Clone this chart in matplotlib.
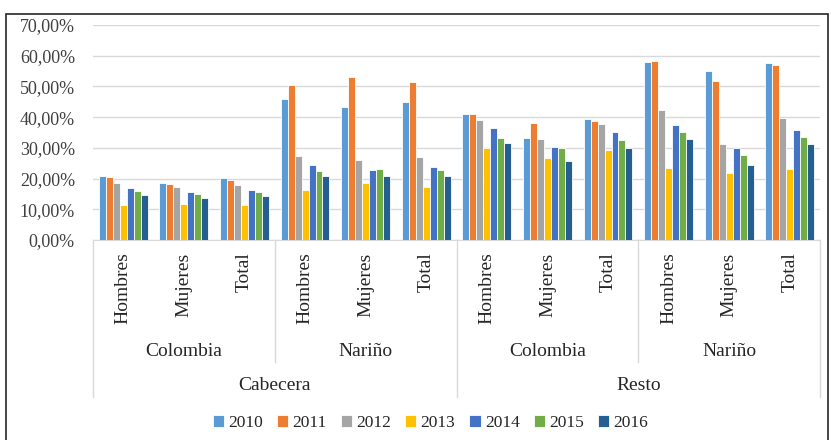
import matplotlib
matplotlib.use("Agg")
import matplotlib.pyplot as plt
from matplotlib.patches import Rectangle
from matplotlib.ticker import FuncFormatter

years = ["2010", "2011", "2012", "2013", "2014", "2015", "2016"]
sexes = ["Hombres", "Mujeres", "Total"]
regions = ["Colombia", "Nariño", "Colombia", "Nariño"]
zones = ["Cabecera", "Resto"]

# one list per year, 12 categories: zone > region > sex (percent)
v2010 = [21.0, 18.5, 20.2, 45.8, 43.3, 44.8, 40.9, 33.3, 39.4, 58.1, 55.0, 57.5]
v2011 = [20.4, 18.3, 19.6, 50.5, 53.1, 51.4, 41.0, 38.1, 38.8, 58.4, 51.8, 56.9]
v2012 = [18.5, 17.3, 18.0, 27.4, 26.1, 26.9, 39.2, 32.9, 37.9, 42.2, 31.4, 39.8]
v2013 = [11.3, 11.8, 11.3, 16.4, 18.7, 17.3, 30.0, 26.7, 29.4, 23.5, 21.7, 23.0]
v2014 = [16.9, 15.6, 16.2, 24.3, 22.7, 23.8, 36.5, 30.3, 35.2, 37.6, 29.9, 35.8]
v2015 = [16.0, 14.9, 15.5, 22.6, 23.1, 22.7, 33.2, 29.9, 32.5, 35.2, 27.7, 33.4]
v2016 = [14.7, 13.8, 14.2, 20.8, 20.8, 20.8, 31.5, 25.8, 30.0, 32.8, 24.3, 31.2]
series = [v2010, v2011, v2012, v2013, v2014, v2015, v2016]
colors = ["#5B9BD5", "#ED7D31", "#A5A5A5", "#FFC000", "#4472C4", "#70AD47", "#255E91"]

plt.rcParams["font.family"] = ["Liberation Serif", "DejaVu Serif"]
fig = plt.figure(figsize=(8.31, 4.40), dpi=100)
ax = fig.add_axes([0.1119, 0.4545, 0.875, 0.4886])

n = len(v2010)
x = list(range(n))
step = 0.115
for j, (vals, c) in enumerate(zip(series, colors)):
    xs = [i + (j - 3) * step for i in x]
    ax.bar(xs, [v / 100 for v in vals], width=step, color=c, edgecolor="white",
           linewidth=0.6, label=years[j], zorder=3)

ax.set_xlim(-0.5, n - 0.5)
ax.set_ylim(0, 0.7)
ax.set_yticks([k / 10 for k in range(8)])
ax.yaxis.set_major_formatter(FuncFormatter(lambda v, p: f"{v*100:.2f}%".replace(".", ",")))
ax.grid(axis="y", color="#D9D9D9", linewidth=1, zorder=0)
for s in ["left", "right", "top"]:
    ax.spines[s].set_visible(False)
ax.spines["bottom"].set_color("#D9D9D9")
ax.tick_params(axis="y", length=0, labelsize=13, colors="#404040", pad=13)
ax.tick_params(axis="x", length=0, labelsize=14, colors="#262626", pad=9)
ax.set_xticks(x)
ax.set_xticklabels(sexes * 4, rotation=90, va="top")

# multi-level category axis
tr = ax.get_xaxis_transform()
for xb in [2.5, 8.5]:
    ax.plot([xb, xb], [0, -0.567], transform=tr, color="#D9D9D9", lw=1, clip_on=False)
for xb in [-0.5, 5.5, 11.5]:
    ax.plot([xb, xb], [0, -0.73], transform=tr, color="#D9D9D9", lw=1, clip_on=False)
for k, r in enumerate(regions):
    ax.text(3 * k + 1, -0.52, r, transform=tr, ha="center", va="center",
            fontsize=14, color="#262626")
for k, z in enumerate(zones):
    ax.text(6 * k + 2.5, -0.675, z, transform=tr, ha="center", va="center",
            fontsize=14, color="#262626")

fig.legend(loc="center", bbox_to_anchor=(0.518, 0.038), ncol=7, frameon=False,
           fontsize=12.5, handlelength=0.65, handleheight=0.65, handletextpad=0.25,
           columnspacing=0.8, labelcolor="#262626")

fig.patches.append(Rectangle((6 / 831, -0.02), 822 / 831, 0.004 + 1 - 7 / 440,
                             transform=fig.transFigure, fill=False,
                             edgecolor="#262626", linewidth=1.2))

fig.savefig("out.png", dpi=100)
